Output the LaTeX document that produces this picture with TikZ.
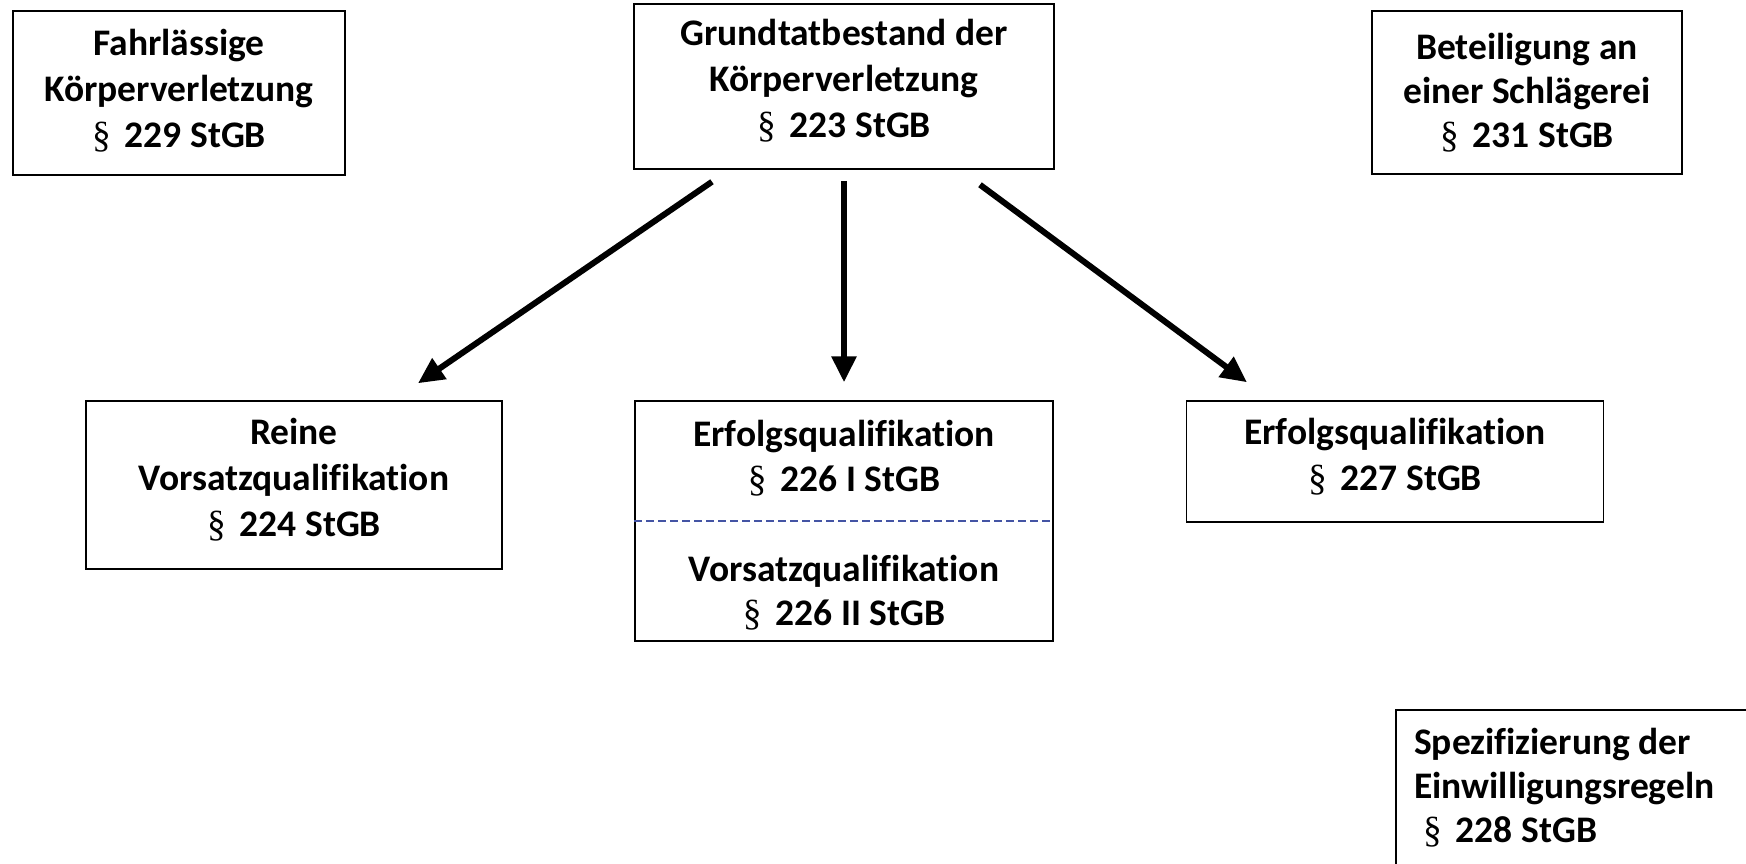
\documentclass[tikz,border=0pt]{standalone}
\usepackage{fontspec}
\setmainfont{Carlito}[Ligatures=NoCommon]
\newfontfamily\parafont{Liberation Serif}
\usetikzlibrary{arrows.meta}
\definecolor{dashblue}{RGB}{68,84,164}
\newcommand{\para}{{\parafont\mdseries\S}\hspace{14pt}}

\begin{document}
\begin{tikzpicture}[x=1pt,y=-1pt,
	box/.style={draw,rectangle,line width=1.5pt,inner sep=0pt},
	txt/.style={inner sep=0pt,align=center,font=\fontsize{37.5}{46}\selectfont\bfseries},
	arr/.style={line width=6pt,-{Triangle[length=26pt,width=24pt]}}]

		\useasboundingbox (0,0) rectangle (1746,863);
		\clip (0,0) rectangle (1746,863);

		% top row
		\node[box, minimum width=332pt, minimum height=164pt] (fahr) at (179,93) {};
		\node[txt] (fahrt) at ([yshift=2pt]fahr.center) {Fahrlässige\\Körperverletzung\\\para 229 StGB};
		\node[box, minimum width=420pt, minimum height=165pt] (grund) at (844,86.5) {};
		\node[txt] (grundt) at ([yshift=5.5pt]grund.center) {Grundtatbestand der\\Körperverletzung\\\para 223 StGB};
		\node[box, minimum width=310pt, minimum height=163pt] (schl) at (1527,92.5) {};
		\node[txt, font=\fontsize{37.5}{44}\selectfont\bfseries] (schlt) at (schl.center) {Beteiligung an\\einer Schlägerei\\\para 231 StGB};

		% qualifications
		\node[box, minimum width=416pt, minimum height=168pt] (rein) at (294,485) {};
		\node[txt] (reint) at ([yshift=5pt]rein.center) {Reine\\Vorsatzqualifikation\\\para 224 StGB};
		\node[box, minimum width=418pt, minimum height=240pt] (schw) at (844,521) {};
		\node[txt, font=\fontsize{37.5}{45}\selectfont\bfseries] (schw1) at (844,458) {Erfolgsqualifikation\\\para 226 I StGB};
		\node[txt, font=\fontsize{37.5}{44}\selectfont\bfseries] (schw2) at (844,593) {Vorsatzqualifikation\\\para 226 II StGB};
		\draw[dashblue, line width=1.5pt, dash pattern=on 8pt off 4pt] (schw.west) -- (schw.east);
		\node[box, minimum width=417pt, minimum height=121pt] (tod) at (1395,461.5) {};
		\node[txt] (todt) at ([yshift=5pt]tod.center) {Erfolgsqualifikation\\\para 227 StGB};

		% consent rules, cut off at the page edge
		\node[box, anchor=north west, minimum width=380pt, minimum height=200pt] (einw) at (1395,709) {};
		\node[txt, anchor=north west, align=left, font=\fontsize{37.5}{44}\selectfont\bfseries] (einwt) at ([xshift=19pt,yshift=-19pt]einw.north west) {Spezifizierung der\\Einwilligungsregeln\\\hspace*{9pt}\para 228 StGB};

		\draw[arr] ([xshift=-132pt,yshift=-12pt]grund.south) -- ([xshift=124pt,yshift=17pt]rein.north);
		\draw[arr] ([yshift=-11pt]grund.south) -- ([yshift=18pt]schw.north);
		\draw[arr] ([xshift=136pt,yshift=-15pt]grund.south) -- ([xshift=-148pt,yshift=18pt]tod.north);
	\end{tikzpicture}
\end{document}
